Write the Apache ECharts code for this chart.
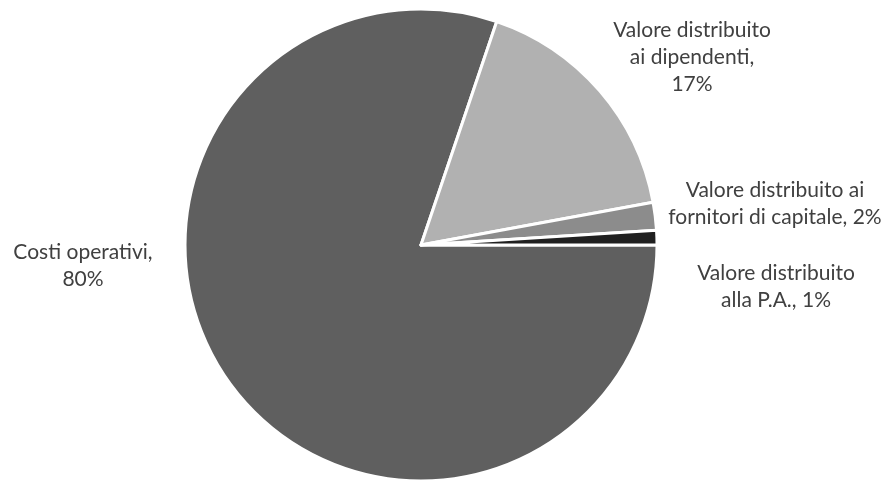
<!DOCTYPE html>
<html>
<head>
<meta charset="utf-8">
<script src="https://cdn.jsdelivr.net/npm/echarts@6/dist/echarts.min.js"></script>
<style>
  html, body { margin: 0; padding: 0; background: #fff; }
  #chart { width: 892px; height: 481px; }
</style>
</head>
<body>
<div id="chart"></div>
<script>
// categorie (con a capo come nel grafico originale)
const categories = [
  'Costi operativi',
  'Valore distribuito\nai dipendenti',
  'Valore distribuito ai\nfornitori di capitale',
  'Valore distribuito\nalla P.A.'
];
// quote (%)
const values = [80.2, 16.9, 1.9, 1.0];
// separatore tra nome e percentuale
const separators = [',\n', ',\n', ', ', ', '];
const colors = ['#5f5f5f', '#b1b1b1', '#8c8c8c', '#202020'];

// posizione delle etichette (centro del blocco di testo)
const labelPos = [
  [83, 266],
  [692, 57],
  [775, 204],
  [776, 287]
];

const chart = echarts.init(document.getElementById('chart'));

const option = {
  animation: false,
  backgroundColor: '#ffffff',
  series: [
    {
      type: 'pie',
      center: [421, 245],
      radius: 236,
      startAngle: 0,
      clockwise: true,
      percentPrecision: 0,
      data: categories.map(function (name, i) {
        return { name: name, value: values[i], itemStyle: { color: colors[i] } };
      }),
      itemStyle: {
        borderColor: '#ffffff',
        borderWidth: 3
      },
      label: {
        show: true,
        position: 'outside',
        fontFamily: 'Lato',
        fontSize: 21,
        lineHeight: 27,
        color: '#404040',
        align: 'center',
        overflow: 'none',
        formatter: function (p) {
          return p.name + separators[p.dataIndex] + p.percent + '%';
        }
      },
      labelLine: { show: false },
      labelLayout: function (params) {
        const pos = labelPos[params.dataIndex];
        return {
          x: pos[0],
          y: pos[1],
          align: 'center',
          verticalAlign: 'middle'
        };
      },
      emphasis: { disabled: true }
    }
  ]
};

chart.setOption(option);
</script>
</body>
</html>
